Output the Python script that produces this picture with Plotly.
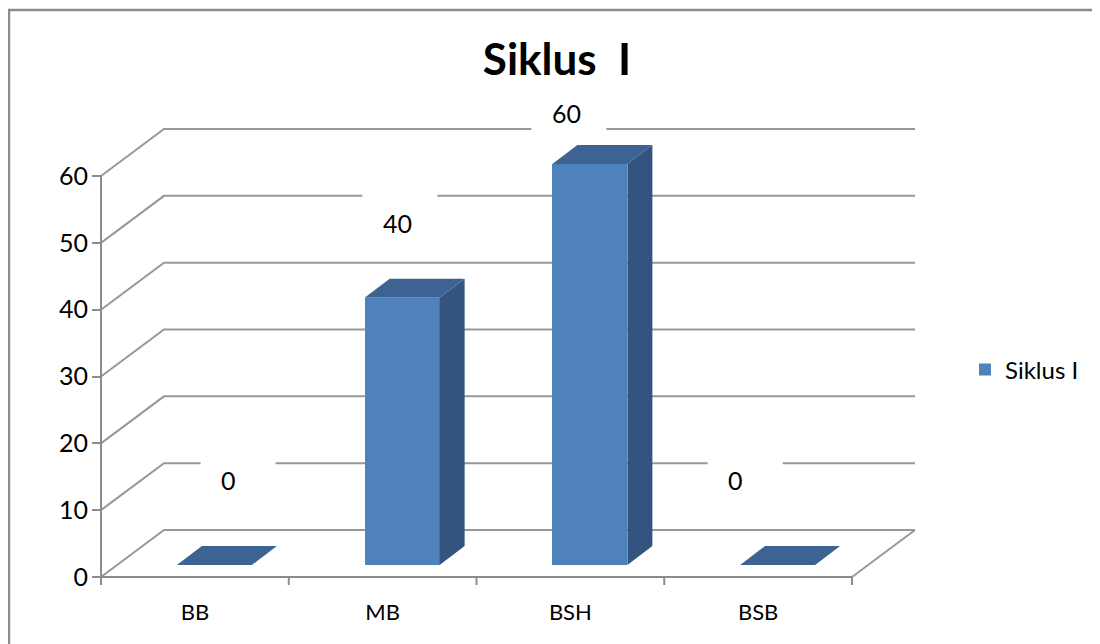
import plotly.graph_objects as go

# ---------------- data ----------------
categories = ["BB", "MB", "BSH", "BSB"]
values = [0, 40, 60, 0]
y_tick_values = [0, 10, 20, 30, 40, 50, 60]
series_name = "Siklus I"
chart_title = "Siklus\u00a0\u00a0I"

# ---------------- geometry (pixel scale of the pseudo-3D frame) ----------------
W, H = 1100, 644
PAGE = 8               # page margin of the html body; figure pixels = screen - PAGE
PX_X = 187.75          # pixels per category slot
PX_Y = 6.683           # pixels per value unit
X0_PX, Y0_PX = 101 - PAGE, 577 - PAGE  # front-left origin (value 0)

def dx(px):
    return px / PX_X

def dy(px):
    return px / PX_Y

DEPTH_X, DEPTH_Y = dx(63), dy(47)          # full floor depth
BAR_SHIFT_X, BAR_BASE = dx(19.5), dy(12)   # bar front plane position
BAR_W = dx(75)
BAR_DX, BAR_DY = dx(25), dy(19)            # bar depth
TICK_LEN = dy(8)

PLOT_L, PLOT_R, PLOT_T, PLOT_B = 92 - PAGE, 930 - PAGE, 80 - PAGE, 590 - PAGE
x_range = [(PLOT_L - X0_PX) / PX_X, (PLOT_R - X0_PX) / PX_X]
y_range = [(Y0_PX - PLOT_B) / PX_Y, (Y0_PX - PLOT_T) / PX_Y]

n = len(categories)
GRID = "#989898"
AXIS = "#8c8c8c"
FRONT = "#4f81bd"
TOP = "#3c6391"
SIDE = "#32547e"
FONT = "Lato"

# data label placement (perspective projection, kept under the chart ceiling)
LBL_SCALE_X, LBL_OFF_X = 0.9004, 0.2306
LBL_SCALE_Y, LBL_OFF_Y, LBL_CEIL = 0.961, 14.5, 69.4
DIGIT_PX = 14.5
label_x = [(i + 0.5) * LBL_SCALE_X + LBL_OFF_X for i in range(n)]
label_y = [min(v * LBL_SCALE_Y + LBL_OFF_Y, LBL_CEIL) for v in values]

shapes = []
# back wall + left wall gridlines
for v in y_tick_values:
    shapes.append(dict(
        type="path", xref="x", yref="y", layer="below",
        path=f"M 0,{v} L {DEPTH_X},{v + DEPTH_Y} L {n + DEPTH_X},{v + DEPTH_Y}",
        line=dict(color=GRID, width=2)))
# floor right edge
shapes.append(dict(type="line", xref="x", yref="y", layer="below",
                   x0=n, y0=0, x1=n + DEPTH_X, y1=DEPTH_Y,
                   line=dict(color=GRID, width=2)))
# white label boxes that break the gridlines
for lx, ly, v in zip(label_x, label_y, values):
    cx = lx + dx(16.5 - DIGIT_PX / 2 * len(str(v)))
    shapes.append(dict(type="rect", xref="x", yref="y", layer="below",
                       x0=cx - dx(37.5), x1=cx + dx(37.5),
                       y0=ly - dy(17), y1=ly + dy(33),
                       fillcolor="white", line=dict(width=0)))
# front x axis line and its ticks
shapes.append(dict(type="line", xref="x", yref="y", layer="above",
                   x0=0, y0=0, x1=n, y1=0, line=dict(color=AXIS, width=2)))
for i in range(n + 1):
    shapes.append(dict(type="line", xref="x", yref="y", layer="above",
                       x0=i, y0=0, x1=i, y1=-TICK_LEN,
                       line=dict(color=AXIS, width=2)))
# front y axis line
shapes.append(dict(type="line", xref="x", yref="y", layer="above",
                   x0=0, y0=0, x1=0, y1=max(y_tick_values),
                   line=dict(color=AXIS, width=2)))

# bar side and top faces, derived from values
bar_x = [i + 0.5 + BAR_SHIFT_X for i in range(n)]
for xc, v in zip(bar_x, values):
    xl, xr = xc - BAR_W / 2, xc + BAR_W / 2
    top = BAR_BASE + v
    if v > 0:
        shapes.append(dict(
            type="path", xref="x", yref="y", layer="above",
            path=(f"M {xr},{BAR_BASE} L {xr + BAR_DX},{BAR_BASE + BAR_DY} "
                  f"L {xr + BAR_DX},{top + BAR_DY} L {xr},{top} Z"),
            fillcolor=SIDE, line=dict(width=0)))
    shapes.append(dict(
        type="path", xref="x", yref="y", layer="above",
        path=(f"M {xl},{top} L {xr},{top} L {xr + BAR_DX},{top + BAR_DY} "
              f"L {xl + BAR_DX},{top + BAR_DY} Z"),
        fillcolor=TOP, line=dict(width=0)))

# chart-area border (extends past the right and bottom edges)
pw, ph = PLOT_R - PLOT_L, PLOT_B - PLOT_T
shapes.append(dict(type="rect", xref="paper", yref="paper", layer="above",
                   x0=(9 - PAGE - PLOT_L) / pw, x1=(1140 - PAGE - PLOT_L) / pw,
                   y0=(PLOT_B - 700) / ph, y1=(PLOT_B - (10 - PAGE)) / ph,
                   line=dict(color=AXIS, width=2.5), fillcolor="rgba(0,0,0,0)"))

annotations = []
for lx, ly, v in zip(label_x, label_y, values):
    annotations.append(dict(
        x=lx, y=ly, xref="x", yref="y", text=str(v), showarrow=False,
        font=dict(family=FONT, size=25, color="black"),
        xanchor="center", yanchor="middle"))

fig = go.Figure()
fig.add_trace(go.Bar(
    x=bar_x, y=values, base=BAR_BASE, width=BAR_W, name=series_name,
    marker=dict(color=FRONT, line=dict(width=0)), showlegend=True))

fig.update_layout(
    width=W, height=H, autosize=False,
    margin=dict(l=PLOT_L, r=W - PLOT_R, t=PLOT_T, b=H - PLOT_B),
    paper_bgcolor="white", plot_bgcolor="white",
    title=dict(text=f"<b>{chart_title}</b>", x=(557 - PAGE) / W, xref="container",
               xanchor="center", y=1 - (60 - PAGE) / H, yref="container",
               yanchor="middle",
               font=dict(family=FONT, size=44, color="black")),
    xaxis=dict(range=x_range, tickvals=[i + 0.5 for i in range(n)],
               ticktext=categories, ticks="", showgrid=False, zeroline=False,
               showline=False, fixedrange=True, ticklabelstandoff=7,
               tickfont=dict(family=FONT, size=22, color="black")),
    yaxis=dict(range=y_range, tickvals=y_tick_values, ticks="inside", ticklen=9,
               tickwidth=2, tickcolor=AXIS, showgrid=False, zeroline=False,
               showline=False, fixedrange=True, ticklabelstandoff=3,
               tickfont=dict(family=FONT, size=25, color="black")),
    legend=dict(x=(965 - PAGE - PLOT_L) / pw, xanchor="left",
                y=(PLOT_B - (370 - PAGE)) / ph,
                yanchor="middle", font=dict(family=FONT, size=24, color="black"),
                bgcolor="rgba(0,0,0,0)"),
    shapes=shapes, annotations=annotations, bargap=0,
)

fig.write_html("out.html")
